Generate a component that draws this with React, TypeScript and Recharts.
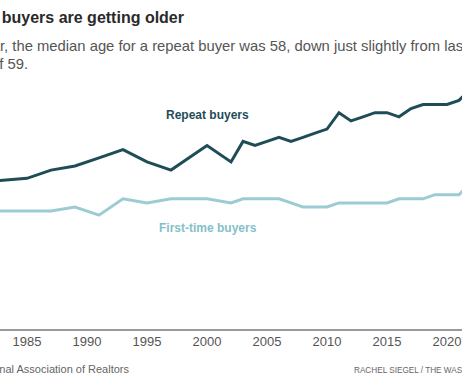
import { LineChart, Line, XAxis, YAxis, CartesianGrid } from "recharts"

const years = [
  1981, 1985, 1987, 1989, 1991, 1993, 1995, 1997, 2000, 2002, 2003, 2004, 2005, 2006, 2007, 2008,
  2009, 2010, 2011, 2012, 2013, 2014, 2015, 2016, 2017, 2018, 2019, 2020, 2021, 2022, 2023,
]
const repeatBuyers = [
  36, 37, 39, 40, 42, 44, 41, 39, 45, 41, 46, 45, 46, 47, 46, 47, 48, 49, 53, 51, 52, 53, 53, 52, 54,
  55, 55, 55, 56, 59, 58,
]
const firstTimeBuyers = [
  29, 29, 29, 30, 28, 32, 31, 32, 32, 31, 32, 32, 32, 32, 31, 30, 30, 30, 31, 31, 31, 31, 31, 32, 32,
  32, 33, 33, 33, 36, 35,
]
const xTicks = [1985, 1990, 1995, 2000, 2005, 2010, 2015, 2020]
const yTicks = [0, 10, 20, 30, 40, 50]

const data = years.map((year, i) => ({
  year,
  repeat: repeatBuyers[i],
  firstTime: firstTimeBuyers[i],
}))

const font = '"Liberation Sans", Arial, sans-serif'

export default function App() {
  return (
    <div
      style={{
        position: "absolute",
        left: 0,
        top: 0,
        width: 462,
        height: 386,
        overflow: "hidden",
        background: "#fff",
        fontFamily: font,
      }}
    >
      <div style={{ position: "absolute", left: -21, top: 0 }}>
        <LineChart width={504} height={386} data={data} margin={{ top: 84, right: 0, bottom: 26, left: 0 }}>
          <CartesianGrid vertical={false} stroke="#dcdcdc" horizontalValues={yTicks} />
          <XAxis
            dataKey="year"
            type="number"
            domain={[1981, 2023]}
            ticks={xTicks}
            height={30}
            tickLine={false}
            tickSize={0}
            tickMargin={7}
            axisLine={{ stroke: "#9a9a9a", strokeWidth: 2 }}
            tick={{ fill: "#555", fontSize: 13, fontFamily: font }}
          />
          <YAxis width={0} domain={[0, 60]} ticks={yTicks} tick={false} axisLine={false} tickLine={false} />
          <Line
            type="linear"
            dataKey="firstTime"
            stroke="#9ccbd3"
            strokeWidth={3}
            dot={false}
            isAnimationActive={false}
          />
          <Line
            type="linear"
            dataKey="repeat"
            stroke="#1f4d57"
            strokeWidth={3}
            dot={false}
            isAnimationActive={false}
          />
        </LineChart>
      </div>

      <svg width={462} height={386} style={{ position: "absolute", left: 0, top: 0, pointerEvents: "none" }}>
        <text x={184} y={23} textAnchor="end" fontSize={16} fontWeight="bold" fill="#2a2a2a" fontFamily={font}>
          Home buyers are getting older
        </text>
        <text fontSize={14.8} fill="#555" fontFamily={font}>
          <tspan x={0} y={50.5} textAnchor="end">This yea</tspan>
          <tspan x={0} y={50.5} textAnchor="start">
            r, the median age for a repeat buyer was 58, down just slightly from last year's
          </tspan>
        </text>
        <text x={28} y={69} textAnchor="end" fontSize={14.8} fill="#555" fontFamily={font}>
          record high of 59.
        </text>

        <text x={166} y={119} fontSize={12} fontWeight="bold" fill="#1f4d57" fontFamily={font}>
          Repeat buyers
        </text>
        <text x={159} y={232} fontSize={12} fontWeight="bold" fill="#86bfc9" fontFamily={font}>
          First-time buyers
        </text>

        <text x={129} y={373} textAnchor="end" fontSize={11} fill="#666" fontFamily={font}>
          Source: National Association of Realtors
        </text>
        <text x={354} y={373} fontSize={8.2} fill="#666" fontFamily={font}>
          RACHEL SIEGEL / THE WASHINGTON POST
        </text>
      </svg>
    </div>
  )
}
